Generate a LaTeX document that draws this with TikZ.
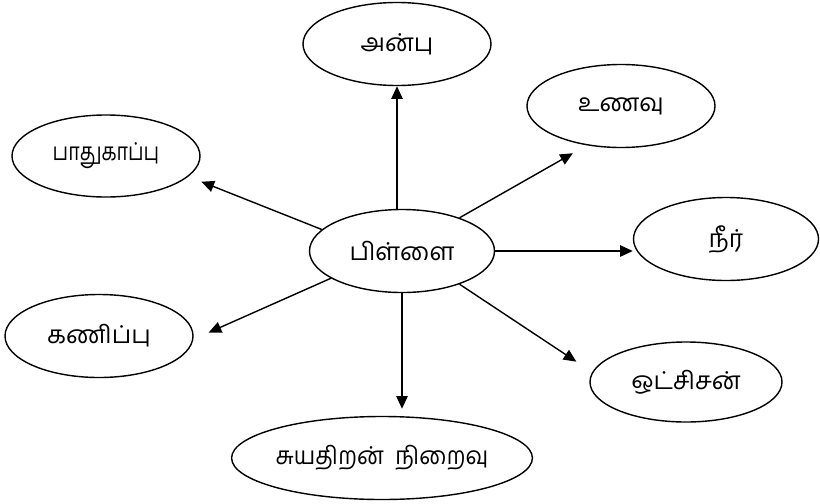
\documentclass[tikz,border=0pt]{standalone}
\usepackage{fontspec}
\newfontfamily\tamilfont[Script=Tamil]{Hind Madurai}
\usetikzlibrary{shapes.geometric, arrows.meta, positioning, calc}

\begin{document}
\begin{tikzpicture}[
    x=0.03cm, y=-0.03cm,
    need/.style={
        ellipse,
        draw,
        line width=1.2pt,
        minimum width=5.64cm,
        minimum height=2.49cm,
        inner sep=0pt,
        text centered,
        font=\tamilfont\fontsize{21}{24}\selectfont
    },
    arrow/.style={
        -{Triangle[length=0.38cm, width=0.34cm]},
        line width=1.2pt
    }
]
\useasboundingbox (0,0) rectangle (820,503);

% Centre
\node[need, minimum width=5.55cm] (pillai) at (402,251) {பிள்ளை};

% Needs round the child
\node[need] (anbu) at (397,44) {அன்பு};
\node[need] (unavu) at (621,106) {உணவு};
\node[need, minimum width=5.55cm] (neer) at (726,239) {நீர்};
\node[need, minimum width=5.76cm, minimum height=2.4cm] (oxygen) at (686,382) {ஒட்சிசன்};
\node[need, minimum width=8.97cm] (suya) at (382,458) {\scalebox{0.93}[1]{சுயதிறன்\hspace{0.5em}நிறைவு}};
\node[need] (kanippu) at (99,336) {கணிப்பு};
\node[need, minimum height=2.46cm] (paadu) at (106,156) {\scalebox{0.8}[1]{பாதுகாப்பு}};

% Arrows out of the centre
\draw[arrow] (anbu.south |- pillai.north) -- (anbu.south);
\draw[arrow, shorten >=0.48cm] (pillai.30) -- (unavu.229);
\draw[arrow] (pillai.east) -- (pillai.east -| neer.west);
\draw[arrow, shorten >=0.57cm] (pillai.-30) -- (oxygen.174);
\draw[arrow, shorten >=0.21cm] (pillai.south) -- (pillai.south |- suya.north);
\draw[arrow, shorten >=0.5cm] (pillai.201) -- (kanippu.-2);
\draw[arrow, shorten >=0.42cm] (pillai.165) -- (paadu.-14);

\end{tikzpicture}
\end{document}
